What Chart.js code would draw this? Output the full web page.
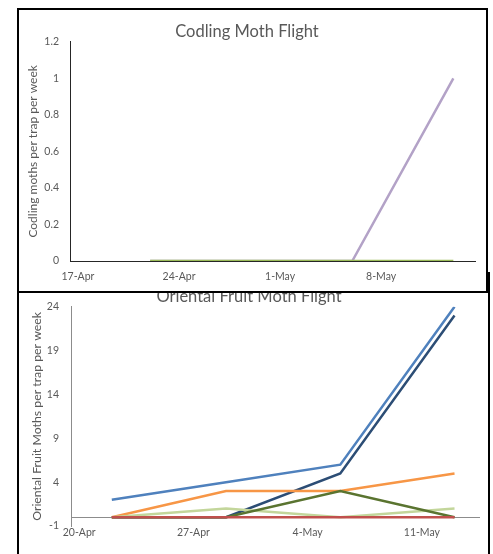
<!DOCTYPE html>
<html>
<head>
<meta charset="utf-8">
<script src="https://cdn.jsdelivr.net/npm/chart.js@4/dist/chart.umd.min.js"></script>
<style>
  html, body { margin: 0; padding: 0; background: #fff; width: 493px; height: 554px; overflow: hidden; }
  .box { position: absolute; box-sizing: border-box; border: 2px solid #000; background: #fff; }
  #ofmBox { left: 17px; top: 272px; width: 473px; height: 290px; z-index: 1; }
  #cmBox { left: 17px; top: 8px; width: 471px; height: 285px; z-index: 2; }
  canvas { display: block; }
</style>
</head>
<body>
<div id="ofmBox" class="box"><canvas id="ofm" width="469" height="286"></canvas></div>
<div id="cmBox" class="box"><canvas id="cm" width="467" height="281"></canvas></div>
<script>
// Sample dates, as day numbers counted from 1 April (22-Apr, 29-Apr, 6-May, 13-May)
const sampleDays = [22, 29, 36, 43];

// Codling moth chart
const cmTickDays = [17, 24, 31, 38];
const cmTickLabels = ['17-Apr', '24-Apr', '1-May', '8-May'];
const cmYTicks = [0, 0.2, 0.4, 0.6, 0.8, 1, 1.2];
const cmYTickLabels = ['0', '0.2', '0.4', '0.6', '0.8', '1', '1.2'];
const cmGreen = [0, 0, 0, 0];
const cmPurple = [0, 0, 0, 1];

// Oriental fruit moth chart
const ofmTickDays = [20, 27, 34, 41];
const ofmTickLabels = ['20-Apr', '27-Apr', '4-May', '11-May'];
const ofmYTicks = [-1, 4, 9, 14, 19, 24];
const ofmRed = [0, 0, 0, 0];
const ofmDarkGreen = [0, 0, 3, 0];
const ofmLightGreen = [0, 1, 0, 1];
const ofmOrange = [0, 3, 3, 5];
const ofmDarkBlue = [0, 0, 5, 23];
const ofmLightBlue = [2, 4, 6, 24];

Chart.defaults.font.family = 'Lato';
Chart.defaults.color = '#595959';

function pts(vals) { return vals.map((v, i) => ({ x: sampleDays[i], y: v })); }
function ds(vals, color) {
  return { data: pts(vals), borderColor: color, backgroundColor: color, borderWidth: 2.5,
           pointRadius: 0, tension: 0, fill: false, borderCapStyle: 'butt' };
}

// ---- Oriental Fruit Moth (drawn underneath) ----
new Chart(document.getElementById('ofm'), {
  type: 'line',
  data: { datasets: [
    ds(ofmRed, '#C0504D'),
    ds(ofmDarkGreen, '#5A7430'),
    ds(ofmLightGreen, '#C3D69B'),
    ds(ofmOrange, '#F79646'),
    ds(ofmDarkBlue, '#2C4D75'),
    ds(ofmLightBlue, '#4F81BD')
  ]},
  options: {
    responsive: false, animation: false, events: [],
    layout: { padding: { top: 0, right: 9, bottom: 34, left: 0 } },
    plugins: {
      legend: { display: false }, tooltip: { enabled: false },
      title: { display: true, text: 'Oriental Fruit Moth Flight', color: '#595959',
               font: { size: 16.5, weight: 'normal' }, padding: { top: 13, bottom: 0 } }
    },
    scales: {
      x: {
        type: 'linear', min: 19.5, max: 44.5, position: { y: 0 },
        afterBuildTicks: a => { a.ticks = ofmTickDays.map(v => ({ value: v })); },
        grid: { display: false, drawTicks: false },
        border: { display: true, color: '#8C8C8C', width: 1 },
        ticks: { padding: 9, maxRotation: 0, autoSkip: false, font: { size: 10.5 },
                 callback: v => ofmTickLabels[ofmTickDays.indexOf(v)] }
      },
      y: {
        min: -1, max: 24,
        afterBuildTicks: a => { a.ticks = ofmYTicks.map(v => ({ value: v })); },
        afterFit: s => { s.width = 52; },
        grid: { display: false, drawTicks: false },
        border: { display: true, color: '#8C8C8C', width: 1 },
        ticks: { padding: 12, font: { size: 10.5 } },
        title: { display: true, text: 'Oriental Fruit Moths per trap per week', color: '#595959',
                 font: { size: 12.3 }, padding: { top: 10.5, bottom: 0 } }
      }
    }
  }
});

// ---- Codling Moth (on top) ----
new Chart(document.getElementById('cm'), {
  type: 'line',
  data: { datasets: [
    ds(cmGreen, '#9BBB59'),
    ds(cmPurple, '#B3A2C7')
  ]},
  options: {
    responsive: false, animation: false, events: [],
    layout: { padding: { top: 0, right: 11, bottom: 0, left: 0 } },
    plugins: {
      legend: { display: false }, tooltip: { enabled: false },
      title: { display: true, text: 'Codling Moth Flight', color: '#595959',
               font: { size: 16.5, weight: 'normal' }, padding: { top: 12, bottom: 0 } }
    },
    scales: {
      x: {
        type: 'linear', min: 16.45, max: 44.5, position: 'bottom',
        afterBuildTicks: a => { a.ticks = cmTickDays.map(v => ({ value: v })); },
        afterFit: s => { s.height = 30; },
        grid: { display: false, drawTicks: false },
        border: { display: true, color: '#262626', width: 1 },
        ticks: { padding: 9, maxRotation: 0, autoSkip: false, font: { size: 10.5 },
                 callback: v => cmTickLabels[cmTickDays.indexOf(v)] }
      },
      y: {
        min: 0, max: 1.2,
        afterBuildTicks: a => { a.ticks = cmYTicks.map(v => ({ value: v })); },
        afterFit: s => { s.width = 51; },
        grid: { display: false, drawTicks: false },
        border: { display: true, color: '#262626', width: 1 },
        ticks: { padding: 11, font: { size: 10.5 },
                 callback: (v, i) => cmYTickLabels[i] },
        title: { display: true, text: 'Codling moths per trap per week', color: '#595959',
                 font: { size: 12 }, padding: { top: 6.5, bottom: 0 } }
      }
    }
  }
});
</script>
</body>
</html>
